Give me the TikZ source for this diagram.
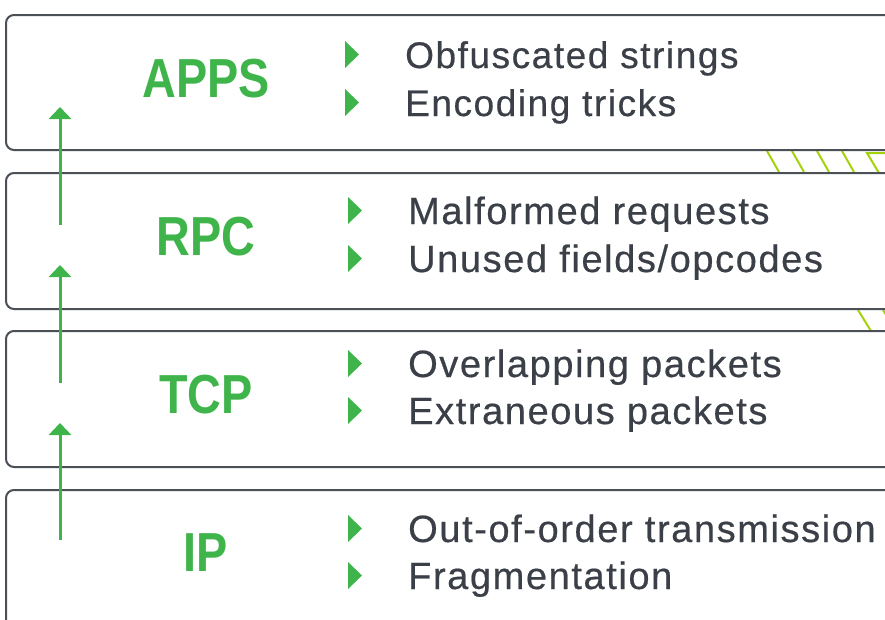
\documentclass[tikz,border=0pt]{standalone}
\usepackage{fontspec}
\setmainfont{Liberation Sans}[LetterSpace=4.2,FakeBold=0.5]
\newfontfamily\layerfont{Liberation Sans}[FakeStretch=0.85]
\usetikzlibrary{arrows.meta}

\definecolor{layergreen}{RGB}{62,180,74}
\definecolor{layergray}{RGB}{59,63,71}
\definecolor{boxgray}{RGB}{75,79,86}
\definecolor{hatchgreen}{RGB}{163,210,10}

\begin{document}
\begin{tikzpicture}[x=1pt,y=-1pt,
    layerbox/.style={draw=boxgray,line width=2pt,rounded corners=8pt,outer sep=0pt,
      inner sep=0pt,anchor=north west,minimum width=950pt},
    layername/.style={text=layergreen,font=\layerfont\bfseries\fontsize{55}{60}\selectfont,
      anchor=base,inner sep=0pt},
    itemtext/.style={text=layergray,anchor=base west,inner sep=0pt},
    hatch/.style={draw=hatchgreen,line width=2pt},
    uparrow/.style={draw=layergreen,line width=3pt,-{Triangle[width=22pt,length=12pt]}}]
  \useasboundingbox (0,0) rectangle (885,619);
  \clip (0,0) rectangle (885,619);

  \foreach \x in {767,792,817,842}
  { \draw[hatch] (\x,151) -- ++(12,21); }
  \draw[hatch] (900,153) -- (867,153) -- ++(12,20);
  \foreach \x in {858,883}
  { \draw[hatch] (\x,310) -- ++(13,21); }

  \foreach \name/\top/\ht in {apps/15/135, rpc/173/136, tcp/331/136, ip/490/170}
  { \node[layerbox,minimum height=\ht pt] (\name-box) at (6,\top) {}; }

  \node[layername] (apps) at (206,97) {APPS};
  \node[layername] (rpc) at (206,255) {RPC};
  \node[layername] (tcp) at (206,413) {TCP};
  \node[layername] (ip) at (206,571) {IP};

  \foreach \bx/\tx/\by/\fs/\txt [count=\i] in
    {345/405/68/37/{Obfuscated strings}, 345/405/116/37/{Encoding tricks},
     348/408/224/38/{Malformed requests}, 348/408/272/38/{Unused fields/opcodes},
     348/408/377/38/{Overlapping packets}, 348/408/424/38/{Extraneous packets},
     348/408/542/38/{Out-of-order transmission}, 348/408/589/38/{Fragmentation}}
  { \fill[layergreen] (\bx,\by-27) -- (\bx+14,\by-13.5) -- (\bx,\by) -- cycle;
    \node[itemtext,font=\fontsize{\fs}{44}\selectfont] (item\i) at (\tx,\by) {\txt}; }

  \foreach \i/\ya/\yb in {1/225/107, 2/383/265, 3/540/423}
  { \coordinate (from\i) at (60,\ya);
    \coordinate (to\i) at (60,\yb);
    \draw[uparrow] (from\i) -- (to\i); }
\end{tikzpicture}
\end{document}
